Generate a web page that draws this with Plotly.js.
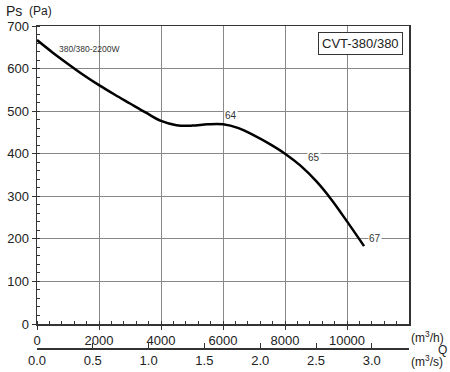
<!DOCTYPE html>
<html>
<head>
<meta charset="utf-8">
<script src="https://cdn.plot.ly/plotly-3.0.1.min.js"></script>
<style>html,body{margin:0;padding:0;background:#fff}#chart{width:450px;height:372px}</style>
</head>
<body>
<div id="chart"></div>
<script>
// Airflow Q (m3/h) and static pressure Ps (Pa)
const flowM3h = [0, 500, 1000, 1500, 2000, 2500, 3000, 3500, 4000, 4500, 5000, 5500, 6000, 6500, 7000, 7500, 8000, 8500, 9000, 9500, 10000, 10550];
const pressurePa = [667, 638, 611, 585, 561, 539, 518, 497, 477, 467, 466, 469, 469, 460, 443, 423, 400, 372, 336, 292, 241, 183];

// Point labels (sound levels)
const labelText = ["64", "65", "67"];
const labelX = [6250, 8950, 10900];
const labelY = [490, 390, 202];

const modelName = "CVT-380/380";
const motorName = "380/380-2200W";

const xTicks = [0, 2000, 4000, 6000, 8000, 10000];
const x2Ticks = [0.0, 0.5, 1.0, 1.5, 2.0, 2.5, 3.0];
const x2TickText = ["0.0", "0.5", "1.0", "1.5", "2.0", "2.5", "3.0"];
const yTicks = [0, 100, 200, 300, 400, 500, 600, 700];

const font = "Liberation Sans, Arial, sans-serif";
const M3H_PER_M3S = 3600;

const trace = {
  x: flowM3h, y: pressurePa, type: "scatter", mode: "lines",
  line: {color: "#000", width: 2.5, shape: "spline", smoothing: 1},
  hoverinfo: "skip", showlegend: false
};
// same curve expressed in m3/s on the secondary axis (invisible, just drives that axis)
const traceM3s = {
  x: flowM3h.map(v => v / M3H_PER_M3S), y: pressurePa, xaxis: "x2", yaxis: "y",
  type: "scatter", mode: "lines", line: {width: 0}, opacity: 0,
  hoverinfo: "skip", showlegend: false
};

const px = (x) => (x - 37) / (409 - 37);
const py = (y) => (348 - y) / (348 - 26);

const annotations = labelText.map((t, i) => ({
  x: labelX[i], y: labelY[i], xref: "x", yref: "y", text: t, showarrow: false,
  font: {family: font, size: 10, color: "#333"}, bgcolor: "#fff", borderpad: 0
}));
annotations.push({x: 1700, y: 646, xref: "x", yref: "y", text: motorName, showarrow: false,
  font: {family: font, size: 8.5, color: "#333"}});
annotations.push({x: 10450, y: 660, xref: "x", yref: "y", text: modelName, showarrow: false,
  font: {family: font, size: 13, color: "#222"}, bgcolor: "#fff", bordercolor: "#333", borderwidth: 1, borderpad: 3});
annotations.push({x: px(4), y: py(11), xref: "paper", yref: "paper", xanchor: "left", yanchor: "middle", text: "Ps", showarrow: false,
  font: {family: font, size: 14, color: "#222"}});
annotations.push({x: px(27), y: py(11), xref: "paper", yref: "paper", xanchor: "left", yanchor: "middle", text: "(Pa)", showarrow: false,
  font: {family: font, size: 12, color: "#222"}});
annotations.push({x: px(409), y: py(337), xref: "paper", yref: "paper", text: "(m<sup>3</sup>/h)", showarrow: false, xanchor: "left", yanchor: "middle", font: {family: font, size: 12, color: "#222"}});
annotations.push({x: px(409), y: py(361), xref: "paper", yref: "paper", text: "(m<sup>3</sup>/s)", showarrow: false, xanchor: "left", yanchor: "middle", font: {family: font, size: 12, color: "#222"}});
annotations.push({x: px(449), y: py(350), xref: "paper", yref: "paper", text: "Q", showarrow: false, xanchor: "right", yanchor: "middle", font: {family: font, size: 12, color: "#222"}});

const layout = {
  width: 450, height: 372,
  margin: {l: 37, r: 41, t: 26, b: 24},
  paper_bgcolor: "#fff", plot_bgcolor: "#fff",
  font: {family: font, size: 13, color: "#222"},
  xaxis: {
    range: [0, 12000], tickvals: xTicks, ticktext: xTicks.map(String),
    showgrid: true, gridcolor: "#888", gridwidth: 1, zeroline: false,
    showline: true, linecolor: "#333", linewidth: 1.5, mirror: true,
    ticks: "outside", ticklen: 4, tickcolor: "#333",
    minor: {dtick: 400, tick0: 0, ticks: "inside", ticklen: 3, tickcolor: "#333", showgrid: false},
    tickfont: {family: font, size: 13, color: "#222"}, anchor: "y"
  },
  xaxis2: {
    overlaying: "x", anchor: "free", position: 0, side: "bottom",
    range: [0, 12000 / M3H_PER_M3S], tickvals: x2Ticks, ticktext: x2TickText,
    showgrid: false, zeroline: false, showline: true, linecolor: "#333", linewidth: 1.5,
    ticks: "inside", ticklen: 5, tickcolor: "#333",
    tickfont: {family: font, size: 13, color: "#222"}
  },
  yaxis: {
    domain: [24 / 322, 1], range: [0, 700], tickvals: yTicks,
    showgrid: true, gridcolor: "#888", gridwidth: 1, zeroline: false,
    showline: true, linecolor: "#333", linewidth: 1.5, mirror: true,
    ticks: "outside", ticklen: 4, tickcolor: "#333",
    minor: {dtick: 20, tick0: 0, ticks: "inside", ticklen: 3, tickcolor: "#333", showgrid: false},
    tickfont: {family: font, size: 13, color: "#222"}
  },
  annotations: annotations
};

Plotly.newPlot("chart", [trace, traceM3s], layout, {displayModeBar: false, staticPlot: true});
</script>
</body>
</html>
